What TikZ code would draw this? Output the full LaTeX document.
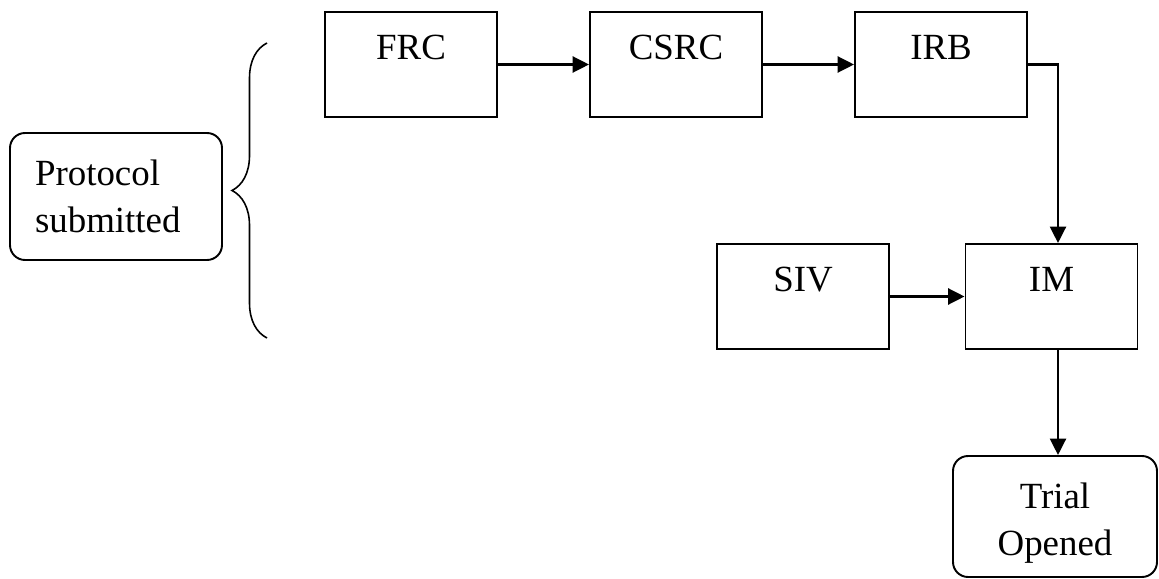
\documentclass[tikz,border=0pt]{standalone}
\usepackage{fontspec}
\setmainfont{Liberation Serif}
\usetikzlibrary{arrows.meta, decorations.pathreplacing}

\tikzset{
    stage/.style={draw, line width=1.1pt, minimum width=3.44cm, inner sep=0pt,
                  text height=0.96cm, text depth=1.14cm},
    roundbox/.style={draw, line width=1.1pt, rounded corners=0.3cm, align=left,
                     inner xsep=0.5cm, inner ysep=0pt},
    curly/.style={decorate, decoration={brace, amplitude=0.7cm}, line width=0.9pt}
}

\begin{document}
\begin{tikzpicture}[->,>={Triangle[length=3.3mm,width=3.2mm]},line width=1.5pt,
                    node distance=5.3cm,font=\fontsize{21}{26.5}\selectfont]
            
                \useasboundingbox (0,0) rectangle (23.18,-11.58);

                \node[stage] (frc) at (8.22,-1.29) {FRC};
                \node[stage] (csrc) [right of=frc] {CSRC};
                \node[stage] (irb) [right of=csrc] {IRB};
                \node[stage] (im) at (21.03,-5.93) {IM};
                \node[stage] (siv) [left of=im, node distance=4.97cm] {SIV};
                \node[roundbox, text width=3.24cm, minimum height=2.54cm] (prot) at (2.32,-3.93)
                    {Protocol\\submitted};
                \node[roundbox, align=center, text width=3.08cm, minimum height=2.42cm,
                      text depth=0.82cm] (trial) [below of=im, node distance=4.4cm, xshift=0.07cm]
                    {Trial\\Opened};

                % brace next to the protocol box
                \draw[-, curly] (5.34,-6.76) -- (5.34,-0.86);

                \path 
                (frc) edge (csrc)
                (csrc) edge (irb)
                (siv) edge (im)
                ;
                \draw (irb.east) -| ([xshift=0.13cm]im.north);
                \draw ([xshift=0.13cm]im.south) -- ([xshift=0.13cm]im.south |- trial.north);
            \end{tikzpicture}
\end{document}
